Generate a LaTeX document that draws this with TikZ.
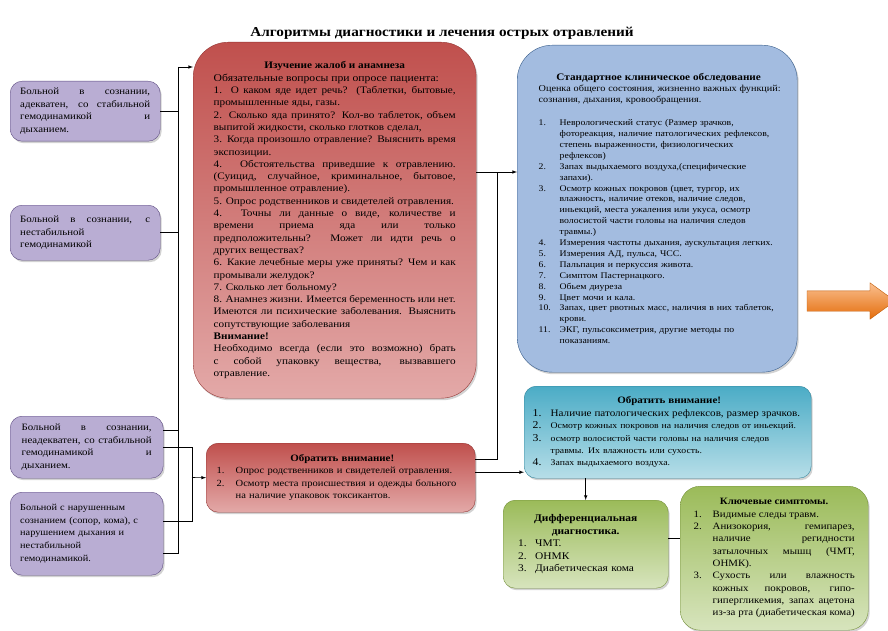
\documentclass[tikz,border=0pt]{standalone}
\usepackage{fontspec}
\setmainfont[FakeStretch=1.12]{Liberation Serif}
\usetikzlibrary{arrows, backgrounds, positioning, shadows, shapes.arrows}

\definecolor{violetlight}{HTML}{B9ADD3}
\definecolor{violetdark}{HTML}{7A66A2}
\definecolor{violetedge}{HTML}{5E4C82}
\definecolor{redtop}{HTML}{C0504D}
\definecolor{redbottom}{HTML}{E3A9A8}
\definecolor{rededge}{HTML}{943634}
\definecolor{bluelight}{HTML}{A3BCE0}
\definecolor{bluedark}{HTML}{5A83C2}
\definecolor{blueedge}{HTML}{385D8A}
\definecolor{cyandark}{HTML}{4BACC6}
\definecolor{cyanlight}{HTML}{B7DEE8}
\definecolor{cyanedge}{HTML}{31859C}
\definecolor{greendark}{HTML}{9BBB59}
\definecolor{greenlight}{HTML}{D7E4BD}
\definecolor{greenedge}{HTML}{76923C}
\definecolor{orangelight}{HTML}{FAC090}
\definecolor{orangedark}{HTML}{E46C0A}

% numbered line with hanging text
\newcommand{\li}[3][1.7em]{\par{\leftskip=#1\noindent\llap{\makebox[#1][l]{#2}}#3\par}}
\newcommand{\sz}[2]{\fontsize{#1}{#2}\selectfont}

\begin{document}
\begin{tikzpicture}[
            x=1pt, y=-1pt,
            background rectangle/.style={fill=white},
            show background rectangle,
            inner frame sep=0pt,
            semithick,
            >=latex
        ]

        \tikzstyle{box}=[
            draw,
            thin,
            rounded corners=12pt,
            align=justify,
            anchor=north west,
            inner ysep=3pt,
            drop shadow={opacity=0.35, shadow xshift=1.5pt, shadow yshift=-2pt}
        ]
        \tikzstyle{patient}=[box, draw=violetedge, top color=violetlight,
            middle color=violetdark, bottom color=violetlight,
            minimum width=150, text width=130, font=\sz{9.7}{12.6}]
        \tikzstyle{history}=[box, draw=rededge, top color=redtop, bottom color=redbottom]
        \tikzstyle{exam}=[box, draw=blueedge, top color=bluelight,
            middle color=bluedark, bottom color=bluelight]
        \tikzstyle{attn}=[box, draw=cyanedge, top color=cyandark, bottom color=cyanlight]
        \tikzstyle{diag}=[box, draw=greenedge, top color=greendark, bottom color=greenlight]

        \useasboundingbox (0,0) rectangle (888,631);

        \node (title) at (442,33) {\sz{13.6}{15}\bfseries Алгоритмы диагностики и лечения острых отравлений};

        % patient state
        \node[patient, minimum height=60] (p1) at (10,81)
            {Больной в сознании, адекватен, со стабильной гемодинамикой и дыханием.};
        \node[patient, minimum height=55] (p2) at (10,205)
            {Больной в сознании, с нестабильной\\ гемодинамикой};
        \node[patient, minimum height=62, minimum width=153] (p3) at (10,416)
            {Больной в сознании, неадекватен, со стабильной гемодинамикой и дыханием.};
        \node[patient, minimum height=83, minimum width=153, text width=133, align=left,
              font=\sz{9.2}{12.6}] (p4) at (10,492)
            {Больной с нарушенным\\ сознанием (сопор, кома), с\\ нарушением дыхания и\\ нестабильной\\ гемодинамикой.};

        % history
        \node[history, rounded corners=35pt, minimum width=283, minimum height=356,
              text width=242, font=\sz{10}{12.3}] (anamnesis) at (193,42) {%
            {\centering\bfseries Изучение жалоб и анамнеза\par}
            {\sz{10.4}{12.3}Обязательные вопросы при опросе пациента:\par}
            1. О каком яде идет речь? (Таблетки, бытовые, промышленные яды, газы.\par
            2. Сколько яда принято? Кол-во таблеток, объем выпитой жидкости, сколько глотков сделал,\par
            3. Когда произошло отравление? Выяснить время экспозиции.\par
            4. Обстоятельства приведшие к отравлению. (Суицид, случайное, криминальное, бытовое, промышленное отравление).\par
            5. Опрос родственников и свидетелей отравления.\par
            4. Точны ли данные о виде, количестве и\linebreak времени приема яда или только предположительны? Может ли идти речь о других веществах?\par
            6. Какие лечебные меры уже приняты? Чем и как промывали желудок?\par
            7. Сколько лет больному?\par
            8. Анамнез жизни. Имеется беременность или нет. Имеются ли психические заболевания. Выяснить сопутствующие заболевания\par
            {\bfseries Внимание!}\par
            Необходимо всегда (если это возможно) брать\linebreak с собой упаковку вещества, вызвавшего\linebreak отравление.};

        \node[history, minimum width=269, minimum height=69, text width=248,
              align=left, font=\sz{9.4}{12.5}] (note) at (206,443) {%
            {\centering\bfseries\sz{9.8}{12.5} Обратить внимание!\par}
            \li[19pt]{1.}{Опрос родственников и свидетелей отравления.}
            \li[19pt]{2.}{Осмотр места происшествия и одежды больного на наличие упаковок токсикантов.}};

        % examination
        \node[exam, rounded corners=35pt, minimum width=280, minimum height=327,
              text width=237, align=left, font=\sz{8.7}{10.9}] (exam) at (517,45) {%
            {\centering\bfseries\sz{10}{14} Стандартное клиническое обследование\par}
            {\sz{9.1}{11}\mbox{Оценка общего состояния, жизненно важных функций:}\\
            сознания, дыхания, кровообращения.\par}
            \vspace{12pt}
            \li[21pt]{1.}{Неврологический статус (Размер зрачков, фотореакция, наличие патологических рефлексов, степень выраженности, физиологических рефлексов)}
            \li[21pt]{2.}{Запах выдыхаемого воздуха,(специфические запахи).}
            \li[21pt]{3.}{Осмотр кожных покровов (цвет, тургор, их влажность, наличие отеков, наличие следов, иньекций, места ужаления или укуса, осмотр волосистой части головы на наличия следов травмы.)}
            \li[21pt]{4.}{Измерения частоты дыхания, аускультация легких.}
            \li[21pt]{5.}{Измерения АД, пульса, ЧСС.}
            \li[21pt]{6.}{Пальпация и перкуссия живота.}
            \li[21pt]{7.}{Симптом Пастернацкого.}
            \li[21pt]{8.}{Обьем диуреза}
            \li[21pt]{9.}{Цвет мочи и кала.}
            \li[21pt]{10.}{Запах, цвет рвотных масс, наличия в них таблеток, крови.}
            \li[21pt]{11.}{ЭКГ, пульсоксиметрия, другие методы по показаниям.}
            \vspace{20pt}};

        \node[attn, minimum width=287, minimum height=92, text width=270,
              align=left, font=\sz{8.7}{12.3}] (attn) at (524,386) {%
            {\centering\bfseries\sz{9.8}{13} Обратить внимание!\par}
            \li[18pt]{\sz{10.5}{12.5}1.}{\sz{9.9}{13}Наличие патологических рефлексов, размер зрачков.}
            \li[18pt]{\sz{10.5}{12.5}2.}{Осмотр кожных покровов на наличия следов от иньекций.}
            \li[18pt]{\sz{10.5}{12.5}3.}{осмотр волосистой части головы на наличия следов травмы. Их влажность или сухость.}
            \li[18pt]{\sz{10.5}{12.5}4.}{Запах выдыхаемого воздуха.}};

        % diagnosis
        \node[diag, minimum width=165, minimum height=88, text width=135,
              align=left, font=\sz{10.2}{12.4}] (diff) at (503,500) {%
            {\centering\bfseries Дифференциальная диагностика.\par}
            \li[17pt]{1.}{ЧМТ.}
            \li[17pt]{2.}{ОНМК}
            \li[17pt]{3.}{Диабетическая кома}
            \vspace{6pt}};

        \node[diag, rounded corners=20pt, minimum width=188, minimum height=144,
              text width=161, font=\sz{9.7}{12.3}] (signs) at (680,486) {%
            {\centering\bfseries Ключевые симптомы.\par}
            \li[19pt]{1.}{Видимые следы травм.}
            \li[19pt]{2.}{Анизокория, гемипарез, наличие регидности затылочных мышц (ЧМТ, ОНМК).}
            \li[19pt]{3.}{Сухость или влажность кожных покровов, гипо-гипергликемия, запах ацетона из-за рта (диабетическая кома)}};

        \node[single arrow, draw=orangedark!85!black, thin, top color=orangelight,
              bottom color=orangedark, minimum height=88, inner xsep=0pt,
              inner ysep=10pt, single arrow head extend=8pt,
              single arrow tip angle=72] (next) at (844,301) {};

        % connectors
        \coordinate (busL) at (178,67);
        \coordinate (bus2) at (192,477.5);
        \coordinate (busR) at (497,172);

        \draw[->] (busL) -- (busL -| anamnesis.west);
        \draw (busL) |- ([yshift=-19.5pt]p4.east);
        \draw (p1.east) -- (p1.east -| busL);
        \draw (p2.east) -- (p2.east -| busL);
        \draw ([yshift=17pt]p3.east) -- ([yshift=17pt]p3.east -| busL);
        \draw (p3.east) -| (bus2);
        \draw ([yshift=12.5pt]p4.east) -| (bus2);
        \draw[->] (bus2) -- (note.west);

        \draw[->] (anamnesis.east |- busR) -- (exam.west |- busR);
        \draw ([yshift=18.5pt]note.east) -| (busR);
        \draw[->] ([yshift=5.5pt]note.east) -- ([yshift=5.5pt]note.east -| attn.west);
        \draw[->] (attn.south -| diff.north) -- (diff.north);
        \draw ([yshift=6pt]diff.east) -- ([yshift=6pt]diff.east -| signs.west);

    \end{tikzpicture}
\end{document}
